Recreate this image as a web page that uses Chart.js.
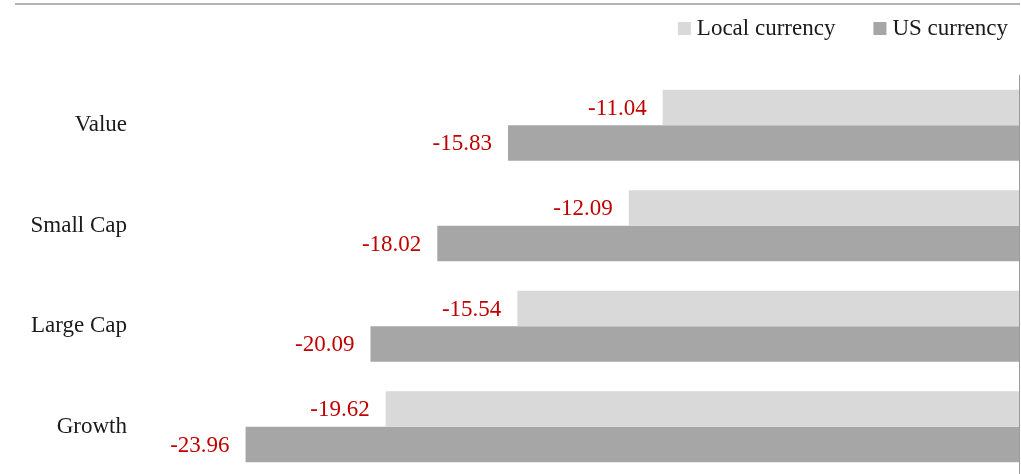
<!DOCTYPE html>
<html>
<head>
<meta charset="utf-8">
<script src="https://cdn.jsdelivr.net/npm/chart.js@4"></script>
<style>
  html, body { margin: 0; padding: 0; background: #fff; overflow: hidden; }
  #wrap { width: 1021px; height: 478px; position: relative; }
</style>
</head>
<body>
<div id="wrap"><canvas id="chart"></canvas></div>
<script>
const categories = ["Value", "Small Cap", "Large Cap", "Growth"];
const localCurrency = [-11.04, -12.09, -15.54, -19.62];
const usCurrency = [-15.83, -18.02, -20.09, -23.96];
const seriesNames = ["Local currency", "US currency"];
const seriesColors = ["#d9d9d9", "#a6a6a6"];

const FONT = "'Liberation Serif', 'Times New Roman', serif";

// red value labels left of each bar, plus the frame line, zero line and legend
const extras = {
    id: "extras",
    afterDatasetsDraw(chart) {
        const ctx = chart.ctx;
        const area = chart.chartArea;
        const x0 = chart.scales.x.getPixelForValue(0);

        ctx.save();
        // top rule
        ctx.fillStyle = "#b4b4b4";
        ctx.fillRect(15, 3, 1005, 2);
        // zero axis on the right
        ctx.fillStyle = "#9a9a9a";
        ctx.fillRect(Math.round(x0), area.top, 1, area.bottom - area.top);

        // values
        ctx.font = "23px " + FONT;
        ctx.fillStyle = "#c00000";
        ctx.textAlign = "right";
        ctx.textBaseline = "middle";
        chart.data.datasets.forEach((ds, i) => {
            chart.getDatasetMeta(i).data.forEach((bar, j) => {
                ctx.fillText(ds.data[j].toFixed(2), bar.x - 16, bar.y + 1);
            });
        });

        // legend, right aligned
        ctx.textAlign = "left";
        let right = 1008;
        for (let i = seriesNames.length - 1; i >= 0; i--) {
            const w = ctx.measureText(seriesNames[i]).width;
            const tx = right - w;
            ctx.fillStyle = seriesColors[i];
            ctx.fillRect(tx - 19, 22, 13, 13);
            ctx.fillStyle = "#1a1a1a";
            ctx.fillText(seriesNames[i], tx, 29);
            right = tx - 19 - 38;
        }
        ctx.restore();
    }
};

new Chart(document.getElementById("chart"), {
    type: "bar",
    data: {
        labels: categories,
        datasets: [
            { label: seriesNames[0], data: localCurrency, backgroundColor: seriesColors[0] },
            { label: seriesNames[1], data: usCurrency, backgroundColor: seriesColors[1] }
        ]
    },
    options: {
        indexAxis: "y",
        responsive: true,
        maintainAspectRatio: false,
        animation: false,
        categoryPercentage: 0.708,
        barPercentage: 1,
        layout: { padding: { top: 75, bottom: 1, right: 2, left: 0 } },
        plugins: {
            legend: { display: false },
            tooltip: { enabled: false }
        },
        scales: {
            x: {
                display: false,
                min: -25,
                max: 0
            },
            y: {
                grid: { display: false },
                border: { display: false },
                afterFit(scale) {
                    scale.width = 212;
                    scale.paddingTop = 0;
                    scale.paddingBottom = 0;
                },
                ticks: {
                    color: "#1a1a1a",
                    padding: 77,
                    font: { family: FONT, size: 23 }
                }
            }
        }
    },
    plugins: [extras]
});
</script>
</body>
</html>
